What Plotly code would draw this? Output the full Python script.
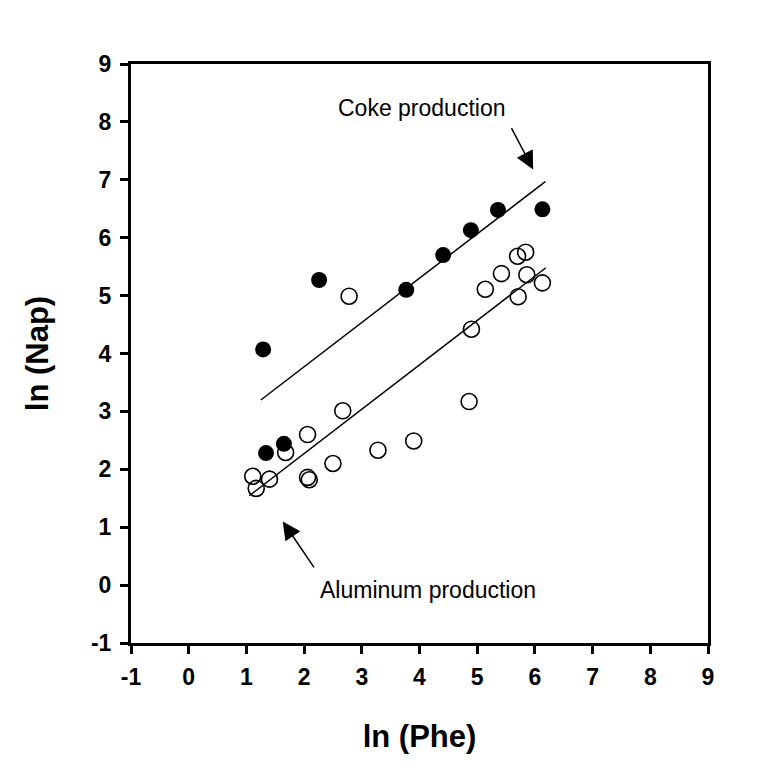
import numpy as np
import plotly.graph_objects as go

# Coke production (filled circles)
coke_phe = [1.29, 1.34, 1.65, 2.26, 3.77, 4.41, 4.89, 5.36, 6.13]
coke_nap = [4.07, 2.28, 2.44, 5.27, 5.10, 5.70, 6.13, 6.48, 6.49]

# Aluminum production (open circles)
alu_phe = [1.11, 1.17, 1.40, 1.68, 2.06, 2.06, 2.09, 2.50, 2.67, 2.78, 3.28,
           3.90, 4.86, 4.90, 5.14, 5.42, 5.70, 5.84, 5.86, 5.71, 6.13]
alu_nap = [1.88, 1.67, 1.83, 2.29, 2.60, 1.86, 1.82, 2.10, 3.01, 4.99, 2.33,
           2.49, 3.17, 4.42, 5.11, 5.38, 5.68, 5.75, 5.36, 4.98, 5.22]

# Extent of the fitted regression lines
coke_fit_range = [1.25, 6.18]
alu_fit_range = [1.05, 6.19]

tick_vals = [-1, 0, 1, 2, 3, 4, 5, 6, 7, 8, 9]

FONT = "Liberation Sans, Arial, sans-serif"

def fit_line(x, y, rng):
    m, b = np.polyfit(x, y, 1)
    xs = np.array(rng)
    return xs, m * xs + b

cx, cy = fit_line(coke_phe, coke_nap, coke_fit_range)
ax_, ay_ = fit_line(alu_phe, alu_nap, alu_fit_range)

fig = go.Figure()
fig.add_trace(go.Scatter(x=cx, y=cy, mode="lines",
                         line=dict(color="black", width=1.5), showlegend=False))
fig.add_trace(go.Scatter(x=ax_, y=ay_, mode="lines",
                         line=dict(color="black", width=1.5), showlegend=False))
fig.add_trace(go.Scatter(x=alu_phe, y=alu_nap, mode="markers",
                         marker=dict(symbol="circle-open", size=16, color="black",
                                     line=dict(width=1.6)),
                         showlegend=False))
fig.add_trace(go.Scatter(x=coke_phe, y=coke_nap, mode="markers",
                         marker=dict(symbol="circle", size=16, color="black"),
                         showlegend=False))

lab_font = dict(family=FONT, size=23, color="black")
fig.add_annotation(x=4.04, y=8.24, text="Coke production", showarrow=False, font=lab_font)
fig.add_annotation(x=5.97, y=7.18, ax=5.58, ay=7.92, axref="x", ayref="y",
                   xref="x", yref="y", text="", showarrow=True,
                   arrowhead=2, arrowsize=2.4, arrowwidth=1.5, arrowcolor="black")
fig.add_annotation(x=4.15, y=-0.09, text="Aluminum production", showarrow=False, font=lab_font)
fig.add_annotation(x=1.63, y=1.10, ax=2.19, ay=0.28, axref="x", ayref="y",
                   xref="x", yref="y", text="", showarrow=True,
                   arrowhead=2, arrowsize=2.4, arrowwidth=1.5, arrowcolor="black")

axis_common = dict(
    range=[-1, 9], tickmode="array", tickvals=tick_vals,
    ticktext=[f"<b>{v}</b>" for v in tick_vals],
    showgrid=False, zeroline=False, automargin=False,
    showline=True, linecolor="black", linewidth=3, mirror=True,
    ticks="outside", ticklen=8, tickwidth=3, tickcolor="black",
    tickfont=dict(family=FONT, size=23, color="black"),
)

fig.update_xaxes(**axis_common, ticklabelstandoff=3,
                 title=dict(text="<b>ln (Phe)</b>", standoff=37,
                            font=dict(family=FONT, size=31, color="black")))
fig.update_yaxes(**axis_common, ticklabelstandoff=4,
                 title=dict(text="<b>ln (Nap)</b>", standoff=34,
                            font=dict(family=FONT, size=31, color="black")))

fig.update_layout(
    width=754, height=772,
    margin=dict(l=123, r=54, t=56, b=137),
    plot_bgcolor="white", paper_bgcolor="white",
)

fig.write_html("out.html")
